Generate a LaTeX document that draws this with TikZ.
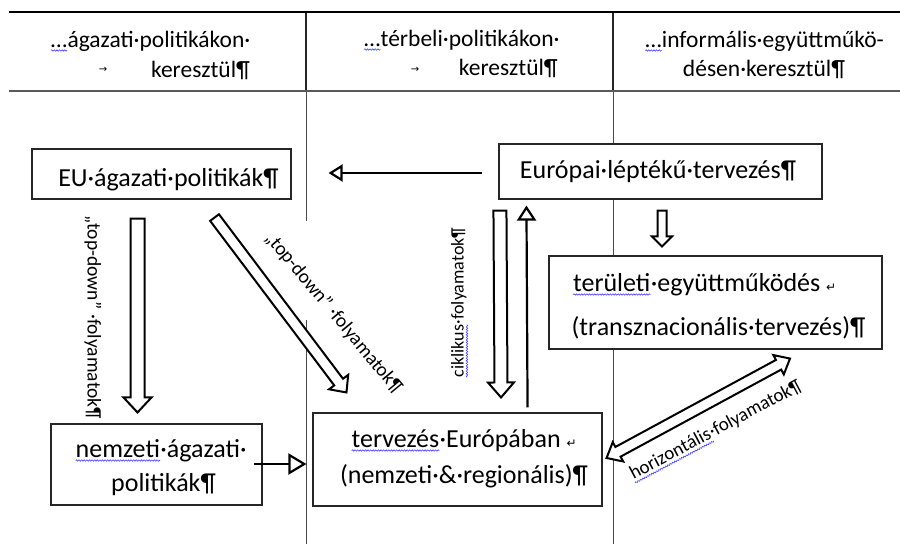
\documentclass[tikz,border=0pt]{standalone}
\usepackage{fontspec}
\setmainfont{Carlito}
\newfontfamily\symf{DejaVu Sans}
\usetikzlibrary{calc,arrows.meta,decorations.pathmorphing}
\tikzset{
  spellline/.style={draw=blue!75, line width=0.6pt, decorate,
    decoration={snake, amplitude=0.7pt, segment length=2.6pt}},
}
\newcommand\spl[1]{\tikz[baseline=(splw.base)]{\node[inner sep=0pt,outer sep=0pt,draw=none,fill=none,anchor=base] (splw) {#1};\path[spellline] ([yshift=-3.5pt]splw.base west) -- ([yshift=-3.5pt]splw.base east);}}
\newcommand\ret{{\symf\fontsize{12}{12}\selectfont ↵}}
\newcommand\blockarr[5]{% start, tip, shaft half, head half, head length
  \coordinate (bac) at ($(#2)!#5!(#1)$);
  \draw[blk] ($(#1)!#3!90:(#2)$) -- ($(bac)!#3!90:(#2)$) -- ($(bac)!#4!90:(#2)$) -- (#2)
    -- ($(bac)!#4!-90:(#2)$) -- ($(bac)!#3!-90:(#2)$) -- ($(#1)!#3!-90:(#2)$) -- cycle;
}
\newcommand\dblockarr[5]{% tip A, tip B, shaft half, head half, head length
  \coordinate (bca) at ($(#1)!#5!(#2)$);
  \coordinate (bcb) at ($(#2)!#5!(#1)$);
  \draw[blk] (#1) -- ($(bca)!#4!90:(#2)$) -- ($(bca)!#3!90:(#2)$) -- ($(bcb)!#3!90:(#2)$)
    -- ($(bcb)!#4!90:(#2)$) -- (#2) -- ($(bcb)!#4!-90:(#2)$) -- ($(bcb)!#3!-90:(#2)$)
    -- ($(bca)!#3!-90:(#2)$) -- ($(bca)!#4!-90:(#2)$) -- cycle;
}
\begin{document}
\begin{tikzpicture}[x=1pt,y=-1pt,
  txt/.style={inner sep=0pt, anchor=base, font=\fontsize{23.5}{28}\selectfont},
  btxt/.style={inner sep=0pt, anchor=base, font=\fontsize{26}{30}\selectfont},
  lbl/.style={inner sep=0pt, font=\fontsize{19.5}{22}\selectfont},
  tabm/.style={inner sep=0pt, font=\symf\fontsize{10}{10}\selectfont},
  box/.style={draw=black!85, line width=1.1pt, fill=white, inner sep=0pt},
  topline/.style={line width=2.2pt, black},
  hline/.style={line width=1.1pt, black!65},
  hdiv/.style={line width=1.5pt, black!85},
  vdiv/.style={line width=1pt, black!70},
  blk/.style={draw=black, line width=2pt, fill=white, line join=miter},
  thinarr/.style={line width=2.2pt, black},
]
\useasboundingbox (0,0) rectangle (900,544);
\fill[white] (0,0) rectangle (900,544);

% table lines
\draw[hdiv] (306,12) -- (306,91);
\draw[hdiv] (613,12) -- (613,91);
\draw[vdiv] (306,91) -- (306,221);
\draw[vdiv] (306,320) -- (306,544);
\draw[vdiv] (613,91) -- (613,544);
\draw[topline] (9,12) -- (900,12);
\draw[hline] (9,91) -- (900,91);

% header texts
\node[txt] (h1a) at (150.5,47) {\spl{…}ágazati·politikákon·};
\node[tabm] (h1t) at (103,70) {→};
\node[txt] (h1b) at (200.5,77) {keresztül¶};
\node[txt] (h2a) at (461.7,46) {\spl{…}térbeli·politikákon·};
\node[tabm] (h2t) at (415,70) {→};
\node[txt] (h2b) at (508.3,75.5) {keresztül¶};
\node[txt] (h3a) at (764.5,47) {\spl{…}informális·együttműkö-};
\node[txt] (h3b) at (764,76) {désen·keresztül¶};

% boxes
\node[box, minimum width=259pt, minimum height=50pt] (eu) at (161.5,174) {};
\node[box, minimum width=323pt, minimum height=55pt] (eur) at (660.5,171.5) {};
\node[box, minimum width=333pt, minimum height=93pt] (ter) at (715.5,302.5) {};
\node[box, minimum width=211pt, minimum height=81pt] (nem) at (156.5,464.5) {};
\node[box, minimum width=289pt, minimum height=93pt] (tvz) at (457.5,459.5) {};

% box texts
\node[btxt] (eut) at (168.5,186.5) {EU·ágazati·politikák¶};
\node[btxt] (eurt) at (658,178) {Európai·léptékű·tervezés¶};
\node[btxt] (tert1) at (704.5,291) {\spl{területi}·együttműködés \ret};
\node[btxt] (tert2) at (718.5,335) {(transznacionális·tervezés)¶};
\node[btxt] (nemt1) at (161,457) {\spl{nemzeti}·ágazati·};
\node[btxt] (nemt2) at (163.5,491) {politikák¶};
\node[btxt] (tvzt1) at (464,447) {\spl{tervezés}·Európában \ret};
\node[btxt] (tvzt2) at (464,483) {(nemzeti·\&·regionális)¶};

% arrow end points
\coordinate (a1s) at ($(eur.west)+(-16,1.5)$);
\coordinate (a1e) at ($(eu.east)+(37,-1)$);
\coordinate (a2s) at ($(eu.south)+(-24,19)$);
\coordinate (a2e) at ($(nem.north)+(-19,-11)$);
\coordinate (a3s) at ($(eu.south east)+(-77,18)$);
\coordinate (a3e) at ($(tvz.north west)+(34,-20)$);
\coordinate (a4s) at ($(eur.south west)+(1.5,11)$);
\coordinate (a4e) at ($(tvz.north east)+(-101.5,-15)$);
\coordinate (a5s) at ($(tvz.north east)+(-75,-5)$);
\coordinate (a5e) at ($(eur.south west)+(28,6)$);
\coordinate (a6s) at ($(eur.south)+(1.5,11)$);
\coordinate (a6e) at ($(ter.north)+(-53.5,-9)$);
\coordinate (a7s) at ($(nem.east)+(-9,-0.5)$);
\coordinate (a7e) at ($(tvz.west)+(-6,4.5)$);
\coordinate (a8a) at ($(tvz.east)+(4,-1.5)$);
\coordinate (a8b) at ($(ter.south)+(74.5,9)$);

% arrows
\draw[thinarr, -{Triangle[open, length=14pt, width=17pt]}] (a1s) -- (a1e);
\blockarr{a2s}{a2e}{7pt}{14pt}{15pt}
\blockarr{a3s}{a3e}{5.5pt}{12pt}{13pt}
\blockarr{a4s}{a4e}{6.5pt}{13pt}{15pt}
\draw[thinarr, -{Triangle[open, length=15pt, width=19pt]}] (a5s) -- (a5e);
\blockarr{a6s}{a6e}{4.5pt}{10pt}{10pt}
\draw[thinarr, -{Triangle[open, length=18pt, width=21pt]}] (a7s) -- (a7e);
\dblockarr{a8a}{a8b}{5.5pt}{11pt}{13pt}

% labels
\node[lbl, rotate=-90, fill=white, inner xsep=4pt, inner ysep=20pt] (lab1) at (93,317.5) {„top-down”\hspace{5pt}·folyamatok¶};
\node[lbl, rotate=-50.3] (lab2) at (333.5,313) {„top-down”\hspace{5pt}·folyamatok¶};
\node[lbl, rotate=90, font=\fontsize{18}{20}\selectfont] (lab3) at (459.5,302.5) {\spl{ciklikus}·folyamatok¶};
\node[lbl, rotate=28, font=\fontsize{19}{22}\selectfont] (lab4) at (716,431) {\spl{horizontális}·folyamatok¶};
\end{tikzpicture}
\end{document}
